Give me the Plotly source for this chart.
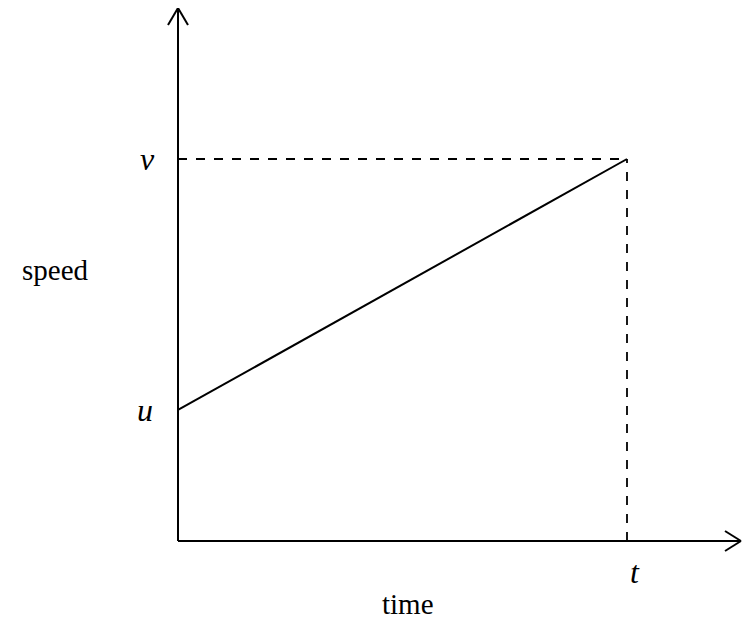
import plotly.graph_objects as go

time = [0, 1]
speed = [0.343, 1.0]
u_label, v_label, t_label = "u", "v", "t"

# page offset of the figure inside the window
OFF = 8
W, H = 750 - 2 * OFF, 631 - 2 * OFF
x0p, y0p, sx, sy = 178, 541, 449, 382  # screen pixels of origin, scale
def px(p): return (p - x0p) / sx
def py(p): return (y0p - p) / sy

fig = go.Figure()
fig.add_trace(go.Scatter(x=time, y=speed, mode="lines",
                         line=dict(color="black", width=2), hoverinfo="skip"))
blk = dict(color="black", width=2)
dash = dict(color="black", width=1.8, dash="dash")
shapes = [
    dict(type="line", x0=0, y0=speed[1], x1=time[1], y1=speed[1], line=dash),
    dict(type="line", x0=time[1], y0=0, x1=time[1], y1=speed[1], line=dash),
    dict(type="line", x0=0, y0=0, x1=px(741), y1=0, line=blk),
    dict(type="line", x0=0, y0=0, x1=0, y1=py(8), line=blk),
    dict(type="line", x0=px(741), y0=0, x1=px(725), y1=py(531), line=blk),
    dict(type="line", x0=px(741), y0=0, x1=px(725), y1=py(551), line=blk),
    dict(type="line", x0=0, y0=py(8), x1=px(168), y1=py(25), line=blk),
    dict(type="line", x0=0, y0=py(8), x1=px(188), y1=py(25), line=blk),
]
f = "Liberation Serif"
ann = [
    dict(x=px(147), y=speed[1], text=f"<i>{v_label}</i>", font=dict(size=32, family=f)),
    dict(x=px(145), y=speed[0], text=f"<i>{u_label}</i>", font=dict(size=32, family=f)),
    dict(x=time[1] + (635 - 627) / sx, y=py(572), text=f"<i>{t_label}</i>", font=dict(size=32, family=f)),
    dict(x=px(55), y=py(270), text="speed", font=dict(size=29, family=f)),
    dict(x=px(408), y=py(604), text="time", font=dict(size=29, family=f)),
]
for a in ann:
    a.update(showarrow=False, xref="x", yref="y", font=dict(a["font"], color="black"))
fig.update_layout(
    width=W, height=H, margin=dict(l=0, r=0, t=0, b=0),
    plot_bgcolor="white", paper_bgcolor="white", showlegend=False,
    shapes=shapes, annotations=ann,
    xaxis=dict(range=[px(OFF), px(OFF + W)], visible=False),
    yaxis=dict(range=[py(OFF + H), py(OFF)], visible=False),
)
fig.write_html("out.html")
